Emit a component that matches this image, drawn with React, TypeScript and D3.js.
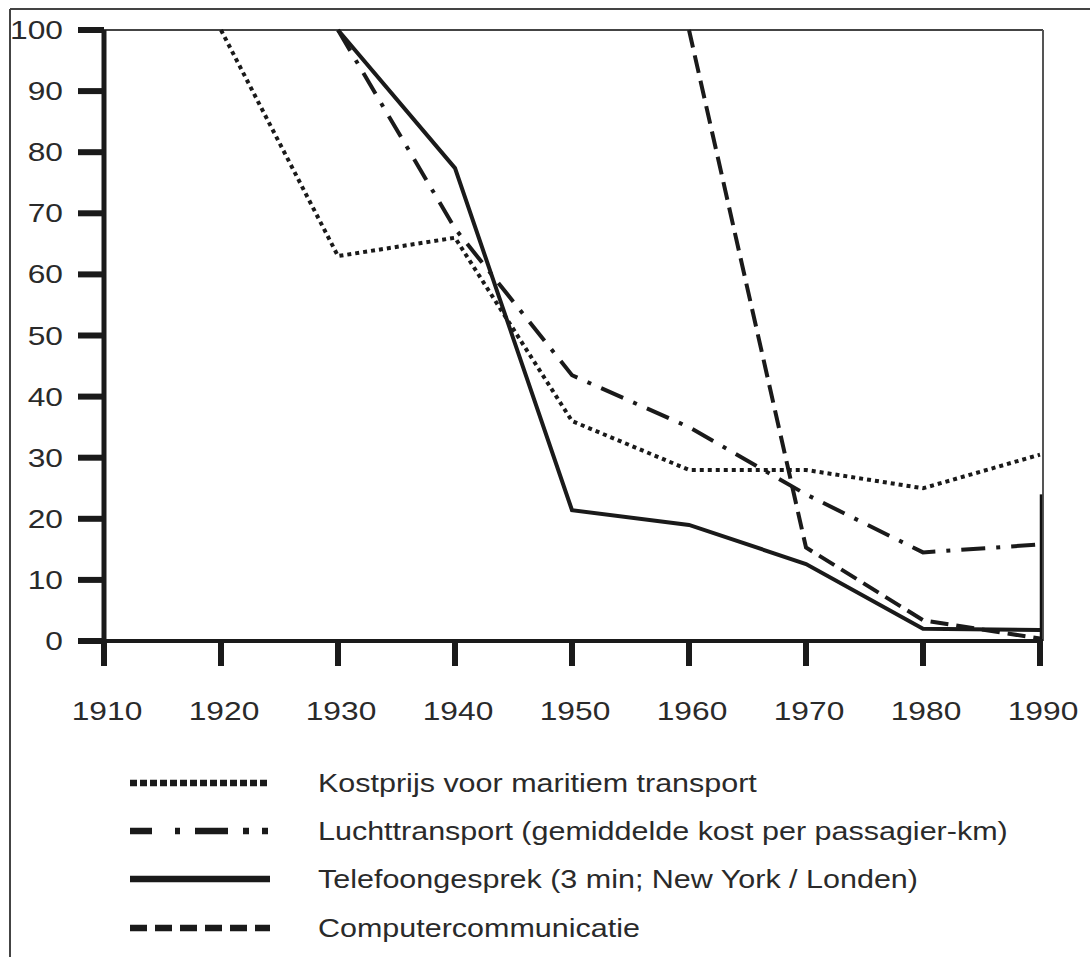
import React from "react";
import * as d3 from "d3";

const years = [1910, 1920, 1930, 1940, 1950, 1960, 1970, 1980, 1990];
const yTicks = [0, 10, 20, 30, 40, 50, 60, 70, 80, 90, 100];

const maritimeYears = [1920, 1930, 1940, 1950, 1960, 1970, 1980, 1990];
const maritimeValues = [100, 63, 66, 36, 28, 28, 25, 30.5];

const airYears = [1930, 1940, 1950, 1960, 1970, 1980, 1990];
const airValues = [100, 67.5, 43.5, 35, 24, 14.5, 15.8];

const phoneYears = [1930, 1940, 1950, 1960, 1970, 1980, 1990];
const phoneValues = [100, 77.4, 21.4, 19, 12.6, 2, 1.8];

const computerYears = [1960, 1970, 1980, 1990];
const computerValues = [100, 15.3, 3.4, 0.4];

const legendLabels = [
  "Kostprijs voor maritiem transport",
  "Luchttransport (gemiddelde kost per passagier-km)",
  "Telefoongesprek (3 min; New York / Londen)",
  "Computercommunicatie",
];

const W = 1090;
const H = 957;
const FONT = "'Liberation Sans', Arial, Helvetica, sans-serif";
const SX = 1.22;

function T({
  x,
  y,
  anchor,
  size,
  children,
}: {
  x: number;
  y: number;
  anchor: "start" | "middle" | "end";
  size: number;
  children: React.ReactNode;
}) {
  return (
    <text
      transform={`translate(${x},${y}) scale(${SX},1)`}
      x={0}
      y={0}
      textAnchor={anchor}
      fontFamily={FONT}
      fontSize={size}
      fill="#2a2a2a"
    >
      {children}
    </text>
  );
}

export default function App() {
  const x = d3.scaleLinear().domain([1910, 1990]).range([104, 1040]);
  const y = d3.scaleLinear().domain([0, 100]).range([641, 30]);
  const line = d3
    .line<[number, number]>()
    .x((d) => x(d[0]))
    .y((d) => y(d[1]));

  const series = [
    { yrs: maritimeYears, vals: maritimeValues, dash: "4,4", w: 4 },
    { yrs: airYears, vals: airValues, dash: "24,11,4,11", w: 4 },
    { yrs: phoneYears, vals: phoneValues, dash: "none", w: 4 },
    { yrs: computerYears, vals: computerValues, dash: "18,8", w: 4 },
  ];
  const legendDash = [
    "7,3",
    "22,23,5,15,33,15,6,13,6,100",
    "none",
    "17,8",
  ];
  const legendY = [783, 831, 879, 928];

  return (
    <svg
      width={W}
      height={H}
      style={{ position: "absolute", left: 0, top: 0, background: "#fff" }}
    >
      <rect x={0} y={0} width={W} height={H} fill="#fff" />
      {/* outer frame */}
      <line x1={10} y1={9} x2={W} y2={9} stroke="#444" strokeWidth={2} />
      <line x1={10} y1={9} x2={10} y2={H} stroke="#444" strokeWidth={2} />
      {/* plot frame top and right */}
      <line x1={78} y1={y(100)} x2={x(1990) + 3} y2={y(100)} stroke="#444" strokeWidth={2} />
      <line x1={x(1990) + 3} y1={y(100)} x2={x(1990) + 3} y2={y(0)} stroke="#555" strokeWidth={2} />
      <line x1={x(1990) + 1} y1={y(24)} x2={x(1990) + 1} y2={y(0)} stroke="#111" strokeWidth={2.5} />

      {/* data lines */}
      {series.map((s, i) => (
        <path
          key={i}
          d={line(s.yrs.map((yr, j) => [yr, s.vals[j]] as [number, number])) || ""}
          fill="none"
          stroke="#1a1a1a"
          strokeWidth={s.w}
          strokeDasharray={s.dash}
          strokeLinejoin="miter"
        />
      ))}

      {/* x axis */}
      <line x1={78} y1={y(0)} x2={x(1990) + 3} y2={y(0)} stroke="#1a1a1a" strokeWidth={4} />
      {years.map((yr) => (
        <g key={yr}>
          <line x1={x(yr)} y1={y(0)} x2={x(yr)} y2={y(0) + 25} stroke="#1a1a1a" strokeWidth={6} />
          <T x={x(yr) + 3} y={y(0) + 79} anchor="middle" size={26}>
            {yr}
          </T>
        </g>
      ))}

      {/* y axis */}
      <line x1={x(1910)} y1={y(100)} x2={x(1910)} y2={y(0) + 25} stroke="#1a1a1a" strokeWidth={5} />
      {yTicks.map((t) => (
        <g key={t}>
          <line x1={78} y1={y(t)} x2={x(1910)} y2={y(t)} stroke="#1a1a1a" strokeWidth={6} />
          <T x={63} y={y(t) + 9} anchor="end" size={26}>
            {t}
          </T>
        </g>
      ))}

      {/* legend */}
      {legendLabels.map((lab, i) => (
        <g key={lab}>
          <line
            x1={130}
            y1={legendY[i]}
            x2={270}
            y2={legendY[i]}
            stroke="#1a1a1a"
            strokeWidth={6.5}
            strokeDasharray={legendDash[i]}
          />
          <T x={318} y={legendY[i] + 9} anchor="start" size={25}>
            {lab}
          </T>
        </g>
      ))}
    </svg>
  );
}
